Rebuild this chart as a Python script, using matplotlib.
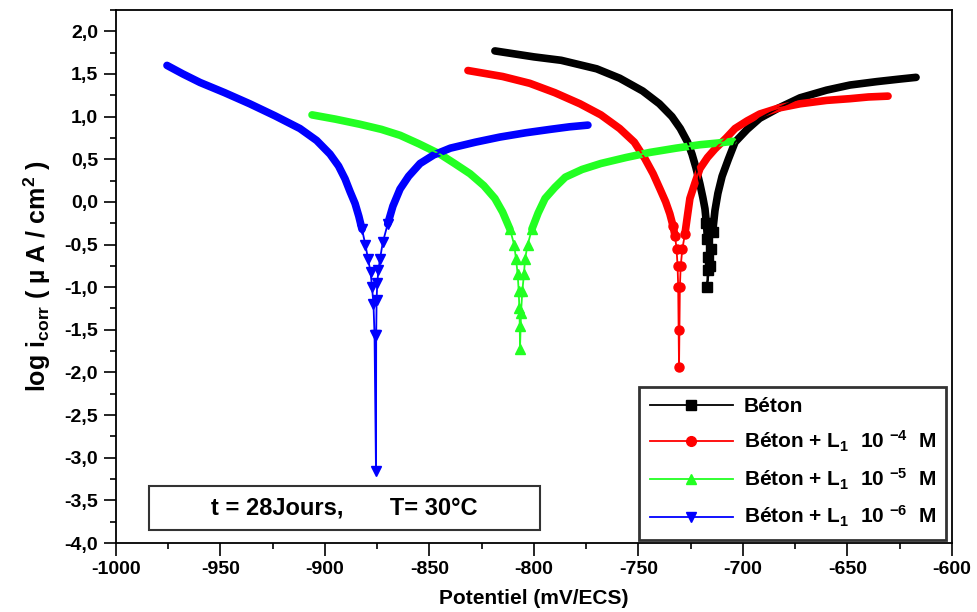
import numpy as np
import matplotlib
matplotlib.use("Agg")
import matplotlib.pyplot as plt
from matplotlib.ticker import MultipleLocator, FuncFormatter
from matplotlib.patches import Rectangle
from matplotlib.lines import Line2D

plt.rcParams['font.family'] = ['Liberation Sans', 'DejaVu Sans']
plt.rcParams['font.weight'] = 'bold'
plt.rcParams['mathtext.fontset'] = 'custom'
plt.rcParams['mathtext.rm'] = 'Liberation Sans:bold'
plt.rcParams['mathtext.bf'] = 'Liberation Sans:bold'
plt.rcParams['mathtext.it'] = 'Liberation Sans:bold'
plt.rcParams['mathtext.default'] = 'rm'

# Tafel curves: potential (mV/ECS) vs log current density, cathodic branch then anodic branch
beton_x = [-818.7, -800, -787, -770, -759, -748, -740, -734, -730, -726.5, -724.4, -722.5,
           -720.6, -719.2, -718.2, -717.5, -717.0, -716.8, -716.9, -717.2,
           -716.0, -715.2, -714.5, -713.4, -712, -710, -707, -703.8, -698, -692, -683,
           -672.7, -660, -648.8, -636, -625, -617.2]
beton_y = [1.77, 1.70, 1.66, 1.56, 1.45, 1.30, 1.15, 1.00, 0.86, 0.70, 0.56, 0.40,
           0.21, 0.05, -0.08, -0.25, -0.44, -0.65, -0.80, -1.00,
           -0.75, -0.55, -0.35, -0.10, 0.10, 0.30, 0.50, 0.70, 0.85, 0.98, 1.10,
           1.22, 1.31, 1.37, 1.41, 1.44, 1.46]

l1_4_x = [-831.6, -815, -802, -790, -778, -768, -759, -752, -747, -743, -739.7, -737,
          -735, -733.5, -732.5, -731.8, -731.3, -731.0, -730.8, -730.6,
          -730.2, -729.8, -729.0, -727.8, -726.5, -725.4, -723, -720.6, -717, -713.4,
          -708, -703.8, -698, -692, -683, -672.7, -660, -648.8, -640, -630.6]
l1_4_y = [1.54, 1.47, 1.39, 1.28, 1.15, 1.02, 0.86, 0.70, 0.51, 0.33, 0.15, 0.00,
          -0.14, -0.28, -0.40, -0.55, -0.75, -1.00, -1.50, -1.94,
          -1.00, -0.75, -0.55, -0.38, -0.15, 0.04, 0.22, 0.39, 0.52, 0.62,
          0.75, 0.86, 0.95, 1.03, 1.10, 1.15, 1.19, 1.21, 1.23, 1.24]

l1_5_x = [-906.2, -895, -883.3, -873, -864, -855, -845, -838, -830.6, -824, -818.7, -815,
          -811.5, -809.5, -808.6, -807.8, -807.3, -807.0, -806.8, -806.7,
          -806.2, -805.6, -804.8, -804.3, -803, -801, -798, -794.7, -790, -785, -777,
          -768, -756, -744.5, -732, -720.6, -712, -704.8]
l1_5_y = [1.02, 0.97, 0.91, 0.85, 0.78, 0.68, 0.56, 0.45, 0.33, 0.19, 0.04, -0.12,
          -0.32, -0.50, -0.67, -0.85, -1.05, -1.25, -1.45, -1.73,
          -1.30, -1.05, -0.85, -0.67, -0.50, -0.32, -0.13, 0.04, 0.17, 0.29, 0.38,
          0.45, 0.52, 0.58, 0.63, 0.67, 0.69, 0.71]

l1_6_x = [-975.6, -968, -959.8, -948, -936, -924, -912, -904, -897.6, -893.5, -890.4, -888,
          -885.6, -883.8, -882.3, -880.7, -879.4, -878.2, -877.5, -876.8, -876.3, -875.6,
          -875.5, -875.3, -875.0, -874.4, -873.7, -872.3, -870, -867.5, -864.1, -860,
          -854.5, -848, -840, -828, -816.3, -804, -792.3, -783, -774.2]
l1_6_y = [1.60, 1.50, 1.40, 1.28, 1.15, 1.01, 0.86, 0.72, 0.56, 0.42, 0.27, 0.12,
          -0.02, -0.17, -0.32, -0.50, -0.67, -0.82, -1.00, -1.20, -1.56, -3.16,
          -1.56, -1.15, -0.95, -0.80, -0.67, -0.47, -0.26, -0.05, 0.15, 0.30,
          0.45, 0.55, 0.63, 0.70, 0.76, 0.81, 0.85, 0.88, 0.90]

labels = ["Béton",
          r"Béton + L$_{\mathregular{1}}$  10 $^{\mathregular{-4}}$  M",
          r"Béton + L$_{\mathregular{1}}$  10 $^{\mathregular{-5}}$  M",
          r"Béton + L$_{\mathregular{1}}$  10 $^{\mathregular{-6}}$  M"]
colors = ["#000000", "#ff0000", "#22ff22", "#0000ff"]
markers = ["s", "o", "^", "v"]
curves = [(beton_x, beton_y), (l1_4_x, l1_4_y), (l1_5_x, l1_5_y), (l1_6_x, l1_6_y)]

fig = plt.figure(figsize=(9.78, 6.12), dpi=100)
ax = fig.add_axes([0.1186, 0.1127, 0.8548, 0.871])

handles = []
for (xs, ys), col, mk, lab in zip(curves, colors, markers, labels):
    xs = np.asarray(xs, float)
    ys = np.asarray(ys, float)
    # dense part of the scan reads as a heavy stroke
    heavy = np.where(ys > -0.45, ys, np.nan)
    ax.plot(xs, heavy, color=col, lw=5.5, solid_capstyle='round', zorder=2)
    ax.plot(xs, ys, color=col, lw=1.3, zorder=3)
    # individual points stay visible near the corrosion potential
    tip = ys < -0.2
    ax.plot(xs[tip], ys[tip], ls='none', marker=mk, ms=6.5, mec=col, mfc=col, zorder=4)
    handles.append(Line2D([], [], color=col, lw=1.3, marker=mk, ms=7, mec=col, mfc=col))

ax.set_xlim(-1000, -600)
ax.set_ylim(-4.0, 2.25)
ax.xaxis.set_major_locator(MultipleLocator(50))
ax.xaxis.set_minor_locator(MultipleLocator(25))
ax.yaxis.set_major_locator(MultipleLocator(0.5))
ax.yaxis.set_minor_locator(MultipleLocator(0.25))
ax.yaxis.set_major_formatter(FuncFormatter(lambda v, p: f"{v:.1f}".replace('.', ',')))
ax.xaxis.set_major_formatter(FuncFormatter(lambda v, p: f"{v:.0f}"))

ax.tick_params(which='major', direction='out', length=9, width=1.2, labelsize=14, pad=4)
ax.tick_params(which='minor', direction='out', length=4.5, width=1.2)
for lbl in ax.get_xticklabels() + ax.get_yticklabels():
    lbl.set_fontweight('bold')
for sp in ax.spines.values():
    sp.set_linewidth(1.3)

ax.set_xlabel("Potentiel (mV/ECS)", fontsize=15, fontweight='bold', labelpad=8)
ax.set_ylabel(r"log i$_{\mathregular{corr}}$ ( µ A / cm$^{\mathregular{2}}$ )",
              fontsize=18, fontweight='bold', labelpad=8)

leg = ax.legend(handles, labels, loc='lower right', bbox_to_anchor=(0.993, 0.006),
                borderaxespad=0, handlelength=4.0, labelspacing=0.6, borderpad=0.5,
                handletextpad=0.5, fancybox=False, framealpha=1,
                prop={'weight': 'bold', 'size': 15})
leg.get_frame().set_edgecolor('#333333')
leg.get_frame().set_linewidth(2)

ax.add_patch(Rectangle((0.0395, 0.0244), 0.4675, 0.0826, transform=ax.transAxes,
                       fill=False, ec='#333333', lw=1.5, zorder=5))
ax.text(0.2733, 0.0657, "t = 28Jours,       T= 30°C", transform=ax.transAxes,
        ha='center', va='center', fontsize=17, fontweight='bold')

fig.savefig("out.png", dpi=100)
